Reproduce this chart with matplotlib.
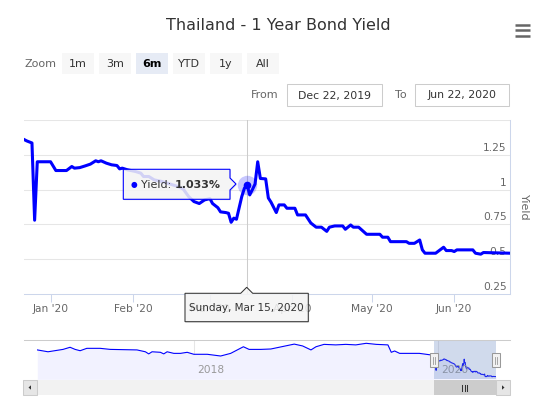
import matplotlib
matplotlib.use("Agg")
import matplotlib.pyplot as plt
import pandas as pd
from matplotlib.patches import Rectangle, Polygon

W, H = 545, 397
LINE = "#0000ff"

# six month window shown in the main chart
yield_dates = [
    "2019-12-22", "2019-12-23", "2019-12-25", "2019-12-26", "2019-12-27",
    "2020-01-01", "2020-01-03", "2020-01-07", "2020-01-09", "2020-01-10",
    "2020-01-12", "2020-01-14", "2020-01-16", "2020-01-18", "2020-01-19",
    "2020-01-20", "2020-01-22", "2020-01-24", "2020-01-26", "2020-01-27",
    "2020-01-28", "2020-01-30", "2020-02-02", "2020-02-04", "2020-02-05",
    "2020-02-07", "2020-02-09", "2020-02-12", "2020-02-14", "2020-02-16",
    "2020-02-18", "2020-02-20", "2020-02-22", "2020-02-24", "2020-02-26",
    "2020-02-28", "2020-03-01", "2020-03-02", "2020-03-04", "2020-03-05",
    "2020-03-07", "2020-03-08", "2020-03-09", "2020-03-10", "2020-03-11",
    "2020-03-13", "2020-03-14", "2020-03-15", "2020-03-16", "2020-03-17",
    "2020-03-18", "2020-03-19", "2020-03-20", "2020-03-22", "2020-03-23",
    "2020-03-24", "2020-03-26", "2020-03-27", "2020-03-29", "2020-03-30",
    "2020-04-02", "2020-04-03", "2020-04-06", "2020-04-08", "2020-04-10",
    "2020-04-12", "2020-04-14", "2020-04-15", "2020-04-17", "2020-04-20",
    "2020-04-21", "2020-04-23", "2020-04-24", "2020-04-26", "2020-04-29",
    "2020-05-04", "2020-05-05", "2020-05-07", "2020-05-08", "2020-05-14",
    "2020-05-15", "2020-05-17", "2020-05-19", "2020-05-20", "2020-05-21",
    "2020-05-25", "2020-05-28", "2020-05-29", "2020-05-31", "2020-06-01",
    "2020-06-02", "2020-06-08", "2020-06-09", "2020-06-11", "2020-06-12",
    "2020-06-22",
]
yield_values = [
    1.36, 1.35, 1.335, 0.78, 1.20,
    1.20, 1.137, 1.137, 1.166, 1.154,
    1.158, 1.17, 1.183, 1.207, 1.20,
    1.207, 1.19, 1.178, 1.173, 1.149,
    1.154, 1.142, 1.13, 1.118, 1.094,
    1.094, 1.07, 1.058, 1.046, 1.034,
    1.022, 1.003, 0.95, 0.914, 0.90,
    0.926, 0.935, 0.90, 0.87, 0.84,
    0.835, 0.83, 0.765, 0.795, 0.787,
    0.95, 1.01, 1.033, 0.962, 1.0,
    1.04, 1.20, 1.08, 1.077, 0.94,
    0.91, 0.835, 0.89, 0.89, 0.866,
    0.866, 0.818, 0.818, 0.76, 0.73,
    0.73, 0.70, 0.73, 0.739, 0.739,
    0.715, 0.746, 0.73, 0.73, 0.679,
    0.679, 0.658, 0.658, 0.626, 0.626,
    0.614, 0.614, 0.638, 0.567, 0.543,
    0.543, 0.586, 0.562, 0.562, 0.555,
    0.567, 0.567, 0.543, 0.536, 0.548,
    0.543,
]

# older history, only visible in the navigator strip
history_dates = [
    "2016-09-20", "2016-10-22", "2016-12-06", "2016-12-27", "2017-01-11",
    "2017-01-26", "2017-02-15", "2017-03-27", "2017-04-26", "2017-06-15",
    "2017-07-15", "2017-08-09", "2017-08-19", "2017-08-29", "2017-09-23",
    "2017-10-03", "2017-10-13", "2017-11-02", "2017-11-22", "2017-12-12",
    "2018-01-01", "2018-02-10", "2018-03-22", "2018-04-21", "2018-05-29",
    "2018-06-15", "2018-07-20", "2018-08-19", "2018-09-13", "2018-10-28",
    "2018-11-22", "2018-12-17", "2019-01-01", "2019-01-25", "2019-03-01",
    "2019-03-31", "2019-04-30", "2019-05-31", "2019-06-30", "2019-08-04",
    "2019-08-14", "2019-08-24", "2019-09-08", "2019-11-06", "2019-12-11",
]
history_values = [
    1.55, 1.48, 1.57, 1.65, 1.57,
    1.52, 1.61, 1.61, 1.57, 1.56,
    1.55, 1.48, 1.40, 1.48, 1.46,
    1.40, 1.48, 1.42, 1.42, 1.46,
    1.385, 1.385, 1.32, 1.42, 1.67,
    1.57, 1.57, 1.585, 1.65, 1.77,
    1.70, 1.55, 1.67, 1.76, 1.74,
    1.76, 1.74, 1.80, 1.76, 1.74,
    1.46, 1.51, 1.42, 1.42, 1.36,
]

y_grid = [0.5, 0.75, 1.0, 1.25, 1.5]
y_label_vals = [0.25, 0.5, 0.75, 1.0, 1.25]
y_labels = ["0.25", "0.5", "0.75", "1", "1.25"]
month_ticks = ["2020-01-01", "2020-02-01", "2020-03-01", "2020-04-01", "2020-05-01", "2020-06-01"]
month_labels = ["Jan '20", "Feb '20", "Mar '20", "Apr '20", "May '20", "Jun '20"]
nav_years = ["2018-01-01", "2020-01-01"]
nav_year_labels = ["2018", "2020"]
zoom_buttons = ["1m", "3m", "6m", "YTD", "1y", "All"]
selected_button = "6m"
range_from = "Dec 22, 2019"
range_to = "Jun 22, 2020"
hover_date = "2020-03-15"
hover_value = 1.033
hover_header = "Sunday, Mar 15, 2020"

fig = plt.figure(figsize=(W / 100, H / 100), dpi=100)


def px_axes(x0, y0, x1, y1):
    return fig.add_axes([x0 / W, 1 - y1 / H, (x1 - x0) / W, (y1 - y0) / H])


# main chart
ax = px_axes(24, 120, 510, 294)
dates = pd.to_datetime(yield_dates)
ax.plot(dates, yield_values, color=LINE, lw=2.2, solid_joinstyle="round", zorder=3)
ax.set_xlim(pd.Timestamp("2019-12-22"), pd.Timestamp("2020-06-22"))
ax.set_ylim(0.25, 1.5)
ax.set_yticks(y_grid)
ax.tick_params(axis="y", length=0, labelleft=False)
ax.grid(axis="y", color="#e6e6e6", lw=0.75)
ax.set_axisbelow(True)
for side in ["top", "left"]:
    ax.spines[side].set_visible(False)
for side in ["bottom", "right"]:
    ax.spines[side].set_color("#ccd6eb")
    ax.spines[side].set_linewidth(0.75)
ax.set_xticks(pd.to_datetime(month_ticks))
ax.set_xticklabels(month_labels)
ax.tick_params(axis="x", direction="out", length=6, width=0.75, color="#ccd6eb",
               labelcolor="#666666", labelsize=7.7, pad=1.5)
for v, lab in zip(y_label_vals, y_labels):
    ax.annotate(lab, xy=(1, v), xycoords=("axes fraction", "data"), xytext=(-2.5, 1.5),
                textcoords="offset points", ha="right", va="bottom", fontsize=7.7,
                color="#666666", zorder=2, annotation_clip=False)

hover_ts = pd.Timestamp(hover_date)
ax.axvline(hover_ts, color="#cccccc", lw=0.75, zorder=2.5)
ax.plot([hover_ts], [hover_value], "o", ms=14, color=LINE, alpha=0.22, mec="none", zorder=4)
ax.plot([hover_ts], [hover_value], "o", ms=5.5, color=LINE, mec="none", zorder=5)

fig.text(524 / W, 1 - 207 / H, "Yield", rotation=270, ha="center", va="center",
         fontsize=8, color="#666666")
fig.text(278 / W, 1 - 25 / H, "Thailand - 1 Year Bond Yield", ha="center", va="center",
         fontsize=11.5, color="#333333")

# navigator strip
nav = px_axes(37.3, 340, 496, 379.3)
nav_dates = pd.to_datetime(history_dates + yield_dates)
nav_values = history_values + yield_values
nav.fill_between(nav_dates, nav_values, 0.44, color="#f2f2ff", lw=0)
nav.plot(nav_dates, nav_values, color=LINE, lw=0.8)
nav.set_xlim(nav_dates[0], nav_dates[-1])
nav.set_ylim(0.44, 1.925)
nav.axis("off")
for d, lab in zip(nav_years, nav_year_labels):
    t = pd.Timestamp(d)
    nav.axvline(t, color="#e6e6e6", lw=0.75, zorder=0)
    nav.annotate(lab, xy=(t, 0), xycoords=("data", "axes fraction"), xytext=(2.5, 3),
                 textcoords="offset points", ha="left", va="bottom", fontsize=7.7,
                 color="#999999")

# overlay in pixel coordinates for the widgets
ov = fig.add_axes([0, 0, 1, 1])
ov.set_xlim(0, W)
ov.set_ylim(H, 0)
ov.axis("off")
ov.patch.set_alpha(0)


def rect(x0, y0, x1, y1, fc, ec="none", lw=0.75, z=1):
    ov.add_patch(Rectangle((x0, y0), x1 - x0, y1 - y0, facecolor=fc, edgecolor=ec, lw=lw, zorder=z))


# export menu icon
for yy in [25, 30, 35.5]:
    ov.plot([515, 530], [yy, yy], color="#666666", lw=1.8, solid_capstyle="butt")

# range selector
ov.text(24.3, 64, "Zoom", ha="left", va="center", fontsize=8, color="#666666")
for i, b in enumerate(zoom_buttons):
    x0 = 62.3 + i * 37
    sel = b == selected_button
    rect(x0, 53.3, x0 + 31.5, 74.3, "#e6ebf5" if sel else "#f7f7f7")
    ov.text(x0 + 15.75, 64, b, ha="center", va="center", fontsize=8,
            color="#000000" if sel else "#333333", fontweight="bold" if sel else "normal")

ov.text(279, 95.5, "From", ha="right", va="center", fontsize=8, color="#666666")
rect(286.7, 84.3, 381.7, 106.3, "white", "#cccccc")
ov.text(334.2, 95.5, range_from, ha="center", va="center", fontsize=7.8, color="#333333")
ov.text(406.7, 95.5, "To", ha="right", va="center", fontsize=8, color="#666666")
rect(415, 84.3, 509, 106.3, "white", "#cccccc")
ov.text(462, 95.5, range_to, ha="center", va="center", fontsize=7.8, color="#333333")

# series tooltip
tip = [(123.3, 169.3), (230, 169.3), (230, 178), (236, 184), (230, 190), (230, 199.3), (123.3, 199.3)]
ov.add_patch(Polygon([(x + 1, y + 1) for x, y in tip], facecolor="black", alpha=0.08, lw=0, zorder=2))
ov.add_patch(Polygon(tip, facecolor=(0.97, 0.97, 0.97, 0.85), edgecolor=LINE, lw=0.8, zorder=3))
ov.text(134, 184.5, "\u25cf", ha="center", va="center", fontsize=5.5, color=LINE, zorder=4)
t1 = ov.text(141, 184.5, "Yield: ", ha="left", va="center", fontsize=8, color="#333333", zorder=4)
ov.annotate(f"{hover_value:.3f}%", xy=(1, 0.5), xycoords=t1, ha="left", va="center",
            fontsize=8, fontweight="bold", color="#333333", zorder=4)

# date header on the axis
hdr = [(185, 293.3), (240.7, 293.3), (246.7, 287.3), (252.7, 293.3), (308.3, 293.3),
       (308.3, 321.7), (185, 321.7)]
ov.add_patch(Polygon([(x + 1, y + 1) for x, y in hdr], facecolor="black", alpha=0.08, lw=0, zorder=2))
ov.add_patch(Polygon(hdr, facecolor=(0.97, 0.97, 0.97, 0.85), edgecolor="#333333", lw=0.75, zorder=3))
ov.text(246.7, 308, hover_header, ha="center", va="center", fontsize=7.5, color="#333333", zorder=4)

# navigator outline, mask and handles
ov.plot([24, 510], [340, 340], color="#cccccc", lw=0.75)
rect(433.5, 340, 496, 379.3, (102 / 255, 133 / 255, 194 / 255, 0.3))
for hx in [433.5, 495.5]:
    rect(hx - 4, 353.3, hx + 4, 367.3, "#f2f2f2", "#999999", z=3)
    for lx in [hx - 1, hx + 1]:
        ov.plot([lx, lx], [356.5, 364], color="#999999", lw=0.6, zorder=4)

# scrollbar
rect(22.7, 380, 510, 395, "#f2f2f2")
rect(22.7, 380, 37.3, 395, "#e6e6e6", "#cccccc")
rect(496, 380, 510, 395, "#e6e6e6", "#cccccc")
ov.add_patch(Polygon([(28.5, 387.5), (31, 385.3), (31, 389.7)], facecolor="#333333", lw=0))
ov.add_patch(Polygon([(504.5, 387.5), (502, 385.3), (502, 389.7)], facecolor="#333333", lw=0))
rect(433.5, 380, 496, 395, "#cccccc")
for gx in [462.3, 464.8, 467.3]:
    ov.plot([gx, gx], [384.5, 390.5], color="#333333", lw=0.75)

fig.savefig("out.png", dpi=100)
